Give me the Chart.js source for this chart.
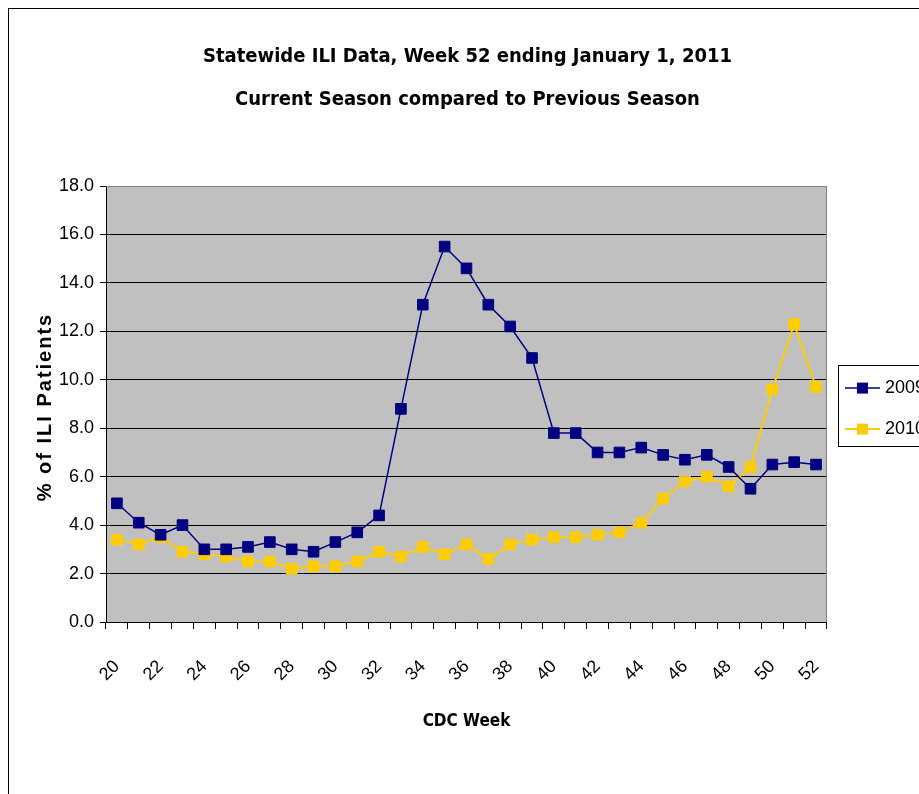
<!DOCTYPE html>
<html>
<head>
<meta charset="utf-8">
<script src="https://cdn.jsdelivr.net/npm/chart.js@4.4.0/dist/chart.umd.min.js"></script>
<style>
  html, body { margin:0; padding:0; background:#fff; overflow:hidden; }
  #wrap { position:relative; width:919px; height:794px; overflow:hidden; }
  #frame { position:absolute; left:8px; top:8px; width:1000px; height:1000px; border:1px solid #000; }
  #ili-chart { position:absolute; left:0; top:0; }
</style>
</head>
<body>
<div id="wrap">
  <div id="frame"></div>
  <canvas id="ili-chart" width="940" height="794"></canvas>
</div>
<script>
// CDC weeks on the x axis
var weeks = ['20','21','22','23','24','25','26','27','28','29','30','31','32','33','34','35','36',
             '37','38','39','40','41','42','43','44','45','46','47','48','49','50','51','52'];
// % of ILI patients
var season2009 = [4.9,4.1,3.6,4.0,3.0,3.0,3.1,3.3,3.0,2.9,3.3,3.7,4.4,8.8,13.1,15.5,14.6,
                  13.1,12.2,10.9,7.8,7.8,7.0,7.0,7.2,6.9,6.7,6.9,6.4,5.5,6.5,6.6,6.5];
var season2010 = [3.4,3.2,3.5,2.9,2.8,2.7,2.5,2.5,2.2,2.3,2.3,2.5,2.9,2.7,3.1,2.8,3.2,
                  2.6,3.2,3.4,3.5,3.5,3.6,3.7,4.1,5.1,5.8,6.0,5.6,6.4,9.6,12.3,9.7];
var seriesNames = ['2009','2010'];
var titleLines = ['Statewide ILI Data, Week 52 ending January 1, 2011','Current Season compared to Previous Season'];
var xTitle = 'CDC Week';
var yTitle = '% of ILI Patients';

var navy = '#000080';
var gold = '#FFCC00';
var narrow = "'DejaVu Sans Condensed', 'Liberation Sans', sans-serif";
var plain = "'Liberation Sans', Arial, sans-serif";

// gray plot area, frame, y title and the legend samples
var excelLook = {
  id: 'excelLook',
  beforeDraw: function(chart){
    var a = chart.chartArea, ctx = chart.ctx;
    ctx.save();
    ctx.fillStyle = '#C0C0C0';
    ctx.fillRect(a.left, a.top, a.right - a.left, a.bottom - a.top);
    ctx.restore();
  },
  beforeDatasetsDraw: function(chart){
    var a = chart.chartArea, ctx = chart.ctx;
    ctx.save();
    ctx.strokeStyle = '#808080';
    ctx.lineWidth = 1;
    ctx.beginPath();
    ctx.moveTo(a.left, a.top + 0.5);
    ctx.lineTo(a.right - 0.5, a.top + 0.5);
    ctx.lineTo(a.right - 0.5, a.bottom);
    ctx.stroke();
    ctx.restore();
  },
  afterDraw: function(chart){
    var a = chart.chartArea, ctx = chart.ctx;
    // y axis title, spaced out like the original
    ctx.save();
    ctx.translate(45, (a.top + a.bottom) / 2 + 3);
    ctx.rotate(-Math.PI / 2);
    ctx.font = 'bold 20px ' + plain;
    ctx.letterSpacing = '2px';
    ctx.fillStyle = '#000';
    ctx.textAlign = 'center';
    ctx.textBaseline = 'middle';
    ctx.fillText(yTitle, 0, 0);
    ctx.restore();

    // legend: line with a square marker, and a box round it
    var boxes = chart.legend.legendHitBoxes;
    if (!boxes || !boxes.length) return;
    var colors = [navy, gold];
    var widths = [1.5, 2];
    ctx.save();
    boxes.forEach(function(hb, i){
      var cy = hb.top + hb.height / 2;
      ctx.strokeStyle = colors[i];
      ctx.lineWidth = widths[i];
      ctx.beginPath();
      ctx.moveTo(hb.left, cy);
      ctx.lineTo(hb.left + 35, cy);
      ctx.stroke();
      ctx.fillStyle = colors[i];
      ctx.fillRect(hb.left + 12, cy - 5.5, 11, 11);
    });
    var first = boxes[0], last = boxes[boxes.length - 1];
    ctx.strokeStyle = '#000';
    ctx.lineWidth = 1;
    ctx.strokeRect(Math.round(first.left - 7) + 0.5, Math.round(first.top - 12) + 0.5,
                   120, Math.round(last.top + last.height + 5 - (first.top - 12)));
    ctx.restore();
  }
};

var op = {
  type: 'line',
  data: {
    labels: weeks,
    datasets: [{
      label: seriesNames[0],
      data: season2009,
      borderColor: navy,
      backgroundColor: navy,
      borderWidth: 1.5,
      pointStyle: 'rect',
      pointRadius: 7.5,
      pointBorderWidth: 1,
      pointBorderColor: navy,
      pointBackgroundColor: navy,
      tension: 0
    },{
      label: seriesNames[1],
      data: season2010,
      borderColor: gold,
      backgroundColor: gold,
      borderWidth: 2,
      pointStyle: 'rect',
      pointRadius: 7.5,
      pointBorderWidth: 1,
      pointBorderColor: gold,
      pointBackgroundColor: gold,
      tension: 0
    }]
  },
  options: {
    responsive: false,
    animation: false,
    layout: { padding: { left: 0, right: 5, top: 0, bottom: 0 } },
    plugins: {
      title: {
        display: true,
        text: titleLines,
        color: '#000',
        font: { family: narrow, size: 20, weight: 'bold', lineHeight: 2.15 },
        padding: { top: 35, bottom: 65 }
      },
      legend: {
        display: true,
        position: 'right',
        fullSize: false,
        // empty title only nudges the items down a little
        title: { display: true, text: '', font: { size: 1 }, padding: { top: 8, bottom: 0 } },
        labels: {
          color: '#000',
          font: { family: plain, size: 18 },
          boxWidth: 31,
          boxHeight: 23,
          padding: 18,
          generateLabels: function(chart){
            var items = Chart.defaults.plugins.legend.labels.generateLabels(chart);
            items.forEach(function(it){
              it.fillStyle = 'rgba(0,0,0,0)';
              it.strokeStyle = 'rgba(0,0,0,0)';
              it.lineWidth = 0;
            });
            return items;
          }
        }
      },
      tooltip: { enabled: false }
    },
    scales: {
      x: {
        type: 'category',
        offset: true,
        grid: { offset: true, drawOnChartArea: false, drawTicks: true, tickLength: 7, tickColor: '#000' },
        border: { color: '#000', width: 1 },
        ticks: {
          autoSkip: false,
          minRotation: 45,
          maxRotation: 45,
          padding: 27,
          color: '#000',
          font: { family: plain, size: 18 },
          callback: function(v, i){ return i % 2 === 0 ? weeks[i] : ''; }
        },
        title: {
          display: true,
          text: xTitle,
          color: '#000',
          font: { family: narrow, size: 17, weight: 'bold', lineHeight: 1.2 },
          padding: { top: 0, bottom: 62 }
        },
        afterFit: function(scale){ scale.height = 172; }
      },
      y: {
        min: 0,
        max: 18,
        grid: {
          color: function(ctx){ return ctx.tick && ctx.tick.value === 18 ? '#808080' : '#000'; },
          tickLength: 6,
          tickColor: '#000'
        },
        border: { color: '#000', width: 1 },
        ticks: {
          stepSize: 2,
          padding: 6,
          color: '#000',
          font: { family: plain, size: 18 },
          callback: function(v){ return v.toFixed(1); }
        },
        afterFit: function(scale){ scale.width = 106; }
      }
    }
  },
  plugins: [excelLook]
};

var ctx = document.getElementById('ili-chart').getContext('2d');
var myChart = new Chart(ctx, op);
</script>
</body>
</html>
